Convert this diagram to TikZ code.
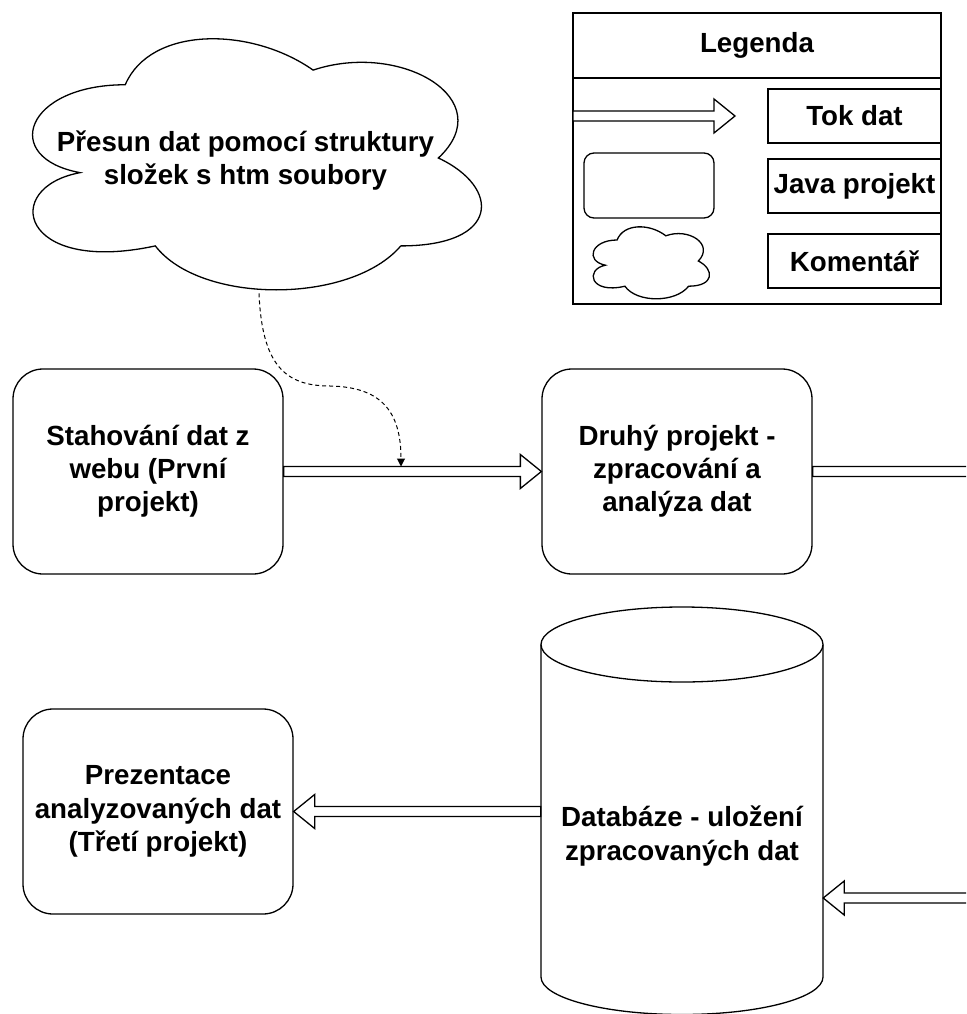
\documentclass[tikz,border=0pt]{standalone}
\usepackage{fontspec}
\setmainfont{Liberation Sans}
\usetikzlibrary{calc,arrows.meta}
\tikzset{
  shapeline/.style={draw=black, line width=1.3pt},
  txt/.style={font=\bfseries\fontsize{27.7}{33.2}\selectfont, align=center, inner sep=0pt},
  proj/.style={shapeline, rounded corners=30pt, minimum width=270pt, minimum height=205pt, txt},
  legbox/.style={shapeline, minimum width=173pt, minimum height=54pt, txt},
  flexline/.style={draw=black, line width=1.3pt, fill=white, line join=miter},
  notecon/.style={draw=black, line width=1pt, dash pattern=on 4pt off 3pt, -{Triangle[length=8pt,width=8pt]}},
}
\newcommand\flexarrow[2]{%
  \draw[flexline] let \p1=#1, \p2=#2, \p3=($#2!21pt!#1$) in
    ({\x1},{\y1+5pt}) -- ({\x3},{\y1+5pt}) -- ({\x3},{\y1+17pt}) -- ({\x2},{\y2})
    -- ({\x3},{\y1-17pt}) -- ({\x3},{\y1-5pt}) -- ({\x1},{\y1-5pt}) -- cycle;}
\begin{document}
\begin{tikzpicture}[x=1pt, y=-1pt]
\useasboundingbox (0,0) rectangle (966,1014);
\clip (0,0) rectangle (966,1014);

% comment cloud
\begin{scope}[shift={(0,11.5)}, x=501pt, y=-293pt]
  \draw[shapeline] (0.25,0.25) .. controls (0.05,0.25) and (0,0.5) .. (0.16,0.55)
    .. controls (0,0.6) and (0.04,0.9) .. (0.31,0.8)
    .. controls (0.4,1) and (0.7,1) .. (0.8,0.8)
    .. controls (1,0.8) and (1,0.6) .. (0.875,0.5)
    .. controls (1,0.3) and (0.8,0.1) .. (0.625,0.2)
    .. controls (0.5,0.05) and (0.3,0.05) .. (0.25,0.25) -- cycle;
  \node[txt] (cloud) at (0.49,0.51) {Přesun dat pomocí struktury\\složek s htm soubory};
  \coordinate (cloudbot) at (0.517,0.962);
\end{scope}

% legend
\node[shapeline, minimum width=368pt, minimum height=291pt] (legend) at (757,158.5) {};
\coordinate (hd) at (0,78);
\draw[shapeline] (legend.west |- hd) -- (legend.east |- hd);
\node[txt] (legtitle) at (757,45.5) {Legenda};
\coordinate (la1) at (573,116);
\coordinate (la2) at (735,116);
\flexarrow{(la1)}{(la2)}
\node[shapeline, rounded corners=10pt, minimum width=130pt, minimum height=65pt] (legproj) at (649,185.5) {};
\begin{scope}[shift={(584.6,219)}, x=130pt, y=-84pt]
  \draw[shapeline] (0.25,0.25) .. controls (0.05,0.25) and (0,0.5) .. (0.16,0.55)
    .. controls (0,0.6) and (0.04,0.9) .. (0.31,0.8)
    .. controls (0.4,1) and (0.7,1) .. (0.8,0.8)
    .. controls (1,0.8) and (1,0.6) .. (0.875,0.5)
    .. controls (1,0.3) and (0.8,0.1) .. (0.625,0.2)
    .. controls (0.5,0.05) and (0.3,0.05) .. (0.25,0.25) -- cycle;
\end{scope}
\node[legbox] (tok) at (854.5,116) {Tok dat};
\node[legbox] (java) at (854.5,186) {Java projekt};
\node[legbox] (kom) at (854.5,261) {Komentář};

% projects
\node[proj] (b1) at (148,471.5) {Stahování dat z\\webu (První\\projekt)};
\node[proj] (b2) at (677,471.5) {Druhý projekt -\\zpracování a\\analýza dat};
\node[proj] (b3) at (158,811.5) {Prezentace\\analyzovaných dat\\(Třetí projekt)};

% database cylinder
\draw[shapeline] (682,644.5) ellipse [x radius=141pt, y radius=37.5pt];
\draw[shapeline] (541,644.5) -- (541,977)
  arc[start angle=180, end angle=360, x radius=141pt, y radius=37.5pt] -- (823,644.5);
\node[txt, minimum width=282pt, minimum height=200pt] (db) at (682,836) {Databáze - uložení\\zpracovaných dat};

% data flow arrows
\flexarrow{(b1.east)}{(b2.west)}
\coordinate (o1) at (1000,471.5);
\flexarrow{(b2.east)}{(o1)}
\coordinate (i1) at (1000,898);
\flexarrow{(i1)}{(db.east |- i1)}
\flexarrow{(db.west |- b3.east)}{(b3.east)}

% comment connector
\coordinate (nt) at (401,466.5);
\draw[notecon] (cloudbot) .. controls (262,365) and (285,386) .. (330,386)
  .. controls (380,387) and (401,410) .. (nt);
\end{tikzpicture}
\end{document}
